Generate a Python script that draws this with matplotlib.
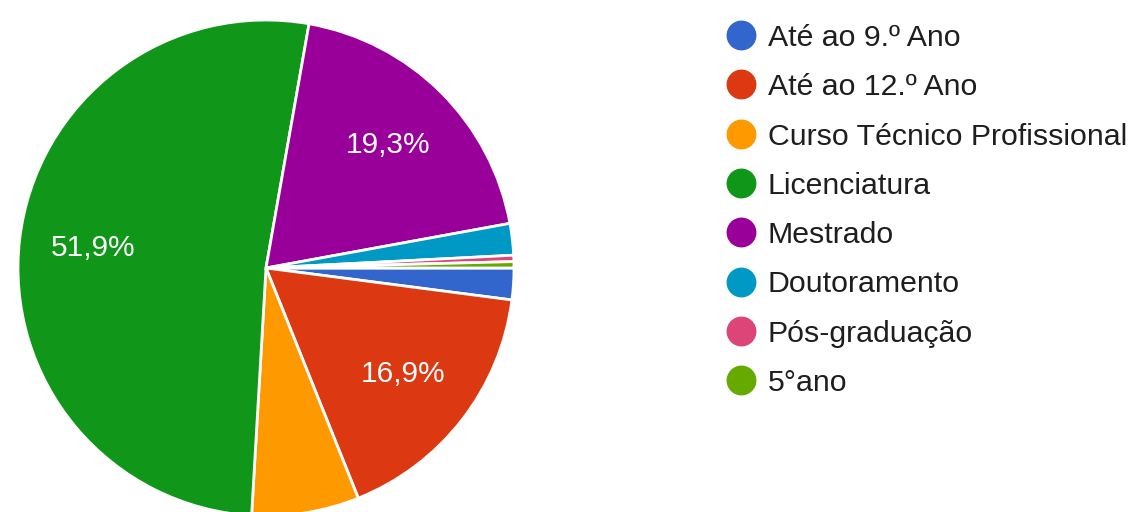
import matplotlib
matplotlib.use("Agg")
import matplotlib.pyplot as plt

# escolaridade dos inquiridos (contagens)
categorias = ["Até ao 9.º Ano", "Até ao 12.º Ano", "Curso Técnico Profissional",
              "Licenciatura", "Mestrado", "Doutoramento", "Pós-graduação", "5°ano"]
respostas = [5, 41, 17, 126, 47, 5, 1, 1]
cores = ["#3366cc", "#dc3912", "#ff9900", "#109618",
         "#990099", "#0099c6", "#dd4477", "#66aa00"]

plt.rcParams['font.family'] = ['Liberation Sans', 'DejaVu Sans']

W, H = 1138, 512
fig = plt.figure(figsize=(W / 100, H / 100), dpi=100)

# pie: centre (266, 268) px, raio 248 px
cx, cy, r = 266, 268, 248
ax = fig.add_axes([(cx - r) / W, (H - cy - r) / H, 2 * r / W, 2 * r / H])


def rotulo(pct):
    # so as fatias grandes levam percentagem
    return f"{pct:.1f}%".replace(".", ",") if pct >= 10 else ""


wedges, texts, autotexts = ax.pie(
    respostas, colors=cores, startangle=0, counterclock=False,
    autopct=rotulo, pctdistance=0.70, radius=1,
    wedgeprops=dict(edgecolor="white", linewidth=2),
    textprops=dict(color="white", fontsize=21.5))
ax.set_xlim(-1, 1)
ax.set_ylim(-1, 1)
ax.set_aspect("equal")
ax.axis("off")

# legenda
y0, dy = 35, 49.3
for i, (nome, cor) in enumerate(zip(categorias, cores)):
    y = 1 - (y0 + i * dy) / H
    fig.add_artist(plt.Line2D([741 / W], [y], marker="o", markersize=20.5,
                              color=cor, linestyle="none",
                              transform=fig.transFigure))
    fig.text(768 / W, y, nome, fontsize=21.8, color="#1e1e1e",
             va="center_baseline", ha="left")

fig.savefig("out.png", dpi=100, facecolor="white")
